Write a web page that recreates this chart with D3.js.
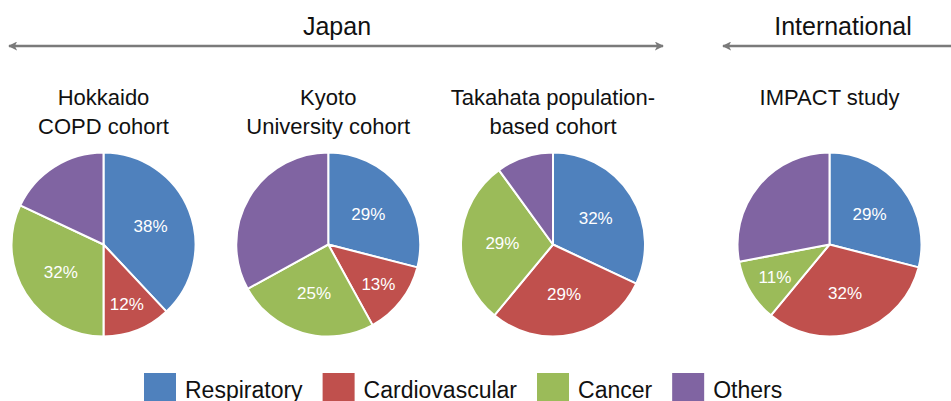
<!DOCTYPE html>
<html>
<head>
<meta charset="utf-8">
<title>Causes of death - pies</title>
<script src="https://cdn.jsdelivr.net/npm/d3@7"></script>
<style>
  body { margin: 0; background: #fff; }
  text { font-family: 'Liberation Sans', Arial, sans-serif; }
</style>
</head>
<body>
<svg id="svg" width="951" height="401"></svg>
<script>

// causes, in the order the slices go (clockwise from 12 o'clock)
var causes = ['Respiratory', 'Cardiovascular', 'Cancer', 'Others'];
var colours = ['#4f81bd', '#c0504d', '#9bbb59', '#8064a2'];

// one pie per cohort
var titles = [
    ['Hokkaido', 'COPD cohort'],
    ['Kyoto', 'University cohort'],
    ['Takahata population-', 'based cohort'],
    ['IMPACT study']
];
var hokkaido = [38, 12, 32, 18];
var kyoto = [29, 13, 25, 33];
var takahata = [32, 29, 29, 10];
var impact = [29, 32, 11, 28];
var cohorts = [hokkaido, kyoto, takahata, impact];

// group headers over the pies
var groups = ['Japan', 'International'];

var svg = d3.select('#svg');
var W = 951;

var cx = d3.scalePoint().domain(d3.range(3)).range([103.5, 553]);
var centres = [cx(0), cx(1), cx(2), 829.5];
var cy = 244.5, R = 92;

var pie = d3.pie().sort(null).value(function(d){ return d; });
var arc = d3.arc().innerRadius(0).outerRadius(R);

// arrows
var defs = svg.append('defs');
defs.append('marker')
    .attr('id', 'head')
    .attr('viewBox', '0 0 10 10')
    .attr('refX', 9).attr('refY', 5)
    .attr('markerWidth', 3.6).attr('markerHeight', 3.6)
    .attr('orient', 'auto-start-reverse')
    .append('path')
    .attr('d', 'M0,0 L10,5 L0,10 L2.5,5 Z')
    .attr('fill', '#7a7a7a');

var arrowY = 46;
svg.append('line')
    .attr('x1', 9).attr('x2', 663).attr('y1', arrowY).attr('y2', arrowY)
    .attr('stroke', '#7a7a7a').attr('stroke-width', 2.5)
    .attr('marker-start', 'url(#head)').attr('marker-end', 'url(#head)');
svg.append('line')
    .attr('x1', 955).attr('x2', 723).attr('y1', arrowY).attr('y2', arrowY)
    .attr('stroke', '#7a7a7a').attr('stroke-width', 2.5)
    .attr('marker-end', 'url(#head)');

svg.selectAll('text.group').data(groups).enter().append('text')
    .attr('class', 'group')
    .attr('x', function(d, i){ return i === 0 ? 337 : 843; })
    .attr('y', 35)
    .attr('text-anchor', 'middle')
    .style('font-size', '25px')
    .attr('fill', '#111')
    .text(function(d){ return d; });

// pies
cohorts.forEach(function(values, k){
    var g = svg.append('g').attr('transform', 'translate(' + centres[k] + ',' + cy + ')');

    var t = svg.append('text')
        .attr('x', centres[k]).attr('y', 105)
        .attr('text-anchor', 'middle')
        .style('font-size', '22px')
        .attr('fill', '#111');
    titles[k].forEach(function(line, j){
        t.append('tspan').attr('x', centres[k]).attr('dy', j === 0 ? 0 : 28.5).text(line);
    });

    var slices = pie(values);
    g.selectAll('path').data(slices).enter().append('path')
        .attr('d', arc)
        .attr('fill', function(d, i){ return colours[i]; })
        .attr('stroke', '#fff').attr('stroke-width', 2)
        .attr('stroke-linejoin', 'round');

    // Others is never labelled in the original
    g.selectAll('text').data(slices.filter(function(d){ return d.index < 3; }))
        .enter().append('text')
        .attr('transform', function(d){
            var rr = d.value < 20 ? R * 0.69 : R * 0.55;
            var a = (d.startAngle + d.endAngle) / 2;
            return 'translate(' + (Math.sin(a) * rr) + ',' + (-Math.cos(a) * rr) + ')';
        })
        .attr('text-anchor', 'middle')
        .attr('dy', '0.36em')
        .style('font-size', '17px')
        .attr('fill', '#fff')
        .text(function(d){ return d.value + '%'; });
});

// legend
var lx = 144, ly = 373;
causes.forEach(function(c, i){
    svg.append('rect')
        .attr('x', lx).attr('y', ly).attr('width', 32).attr('height', 32)
        .attr('fill', colours[i]);
    var txt = svg.append('text')
        .attr('x', lx + 41).attr('y', 398)
        .style('font-size', '23px')
        .attr('fill', '#111')
        .text(c);
    lx += 41 + txt.node().getComputedTextLength() + 20;
});

</script>
</body>
</html>
